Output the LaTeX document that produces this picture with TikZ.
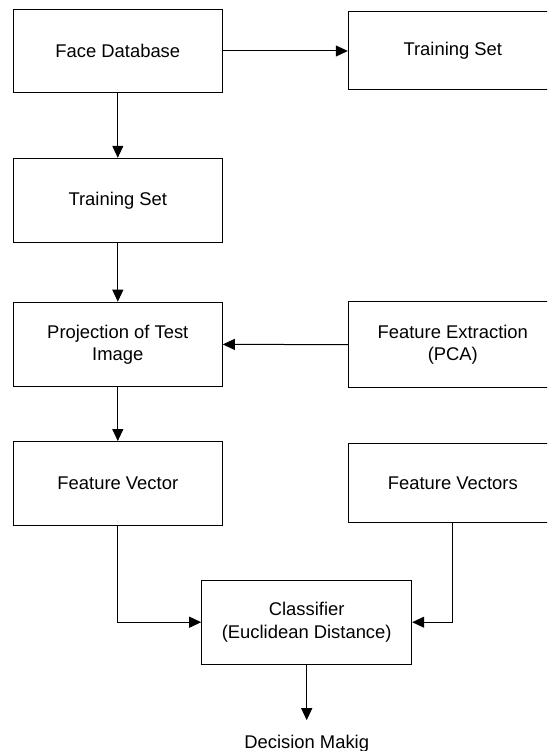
\documentclass[tikz,border=0pt]{standalone}
\usepackage{fontspec}
\setmainfont{Liberation Sans}
\usetikzlibrary{arrows.meta}
\begin{document}
\begin{tikzpicture}[x=1pt,y=-1pt,
  line width=1pt,
  every node/.style={font=\fontsize{18.4}{22.3}\selectfont},
  blockbox/.style={draw=black, rectangle, inner sep=0pt, align=center, minimum width=209pt},
  flow/.style={draw=black, -{Triangle[length=12pt,width=11pt]}}]
  \useasboundingbox (0,0) rectangle (547,751);
  \clip (0,0) rectangle (547,751);

  % left column
  \node[blockbox, minimum height=83.4pt] (fdb)  at (117.8,51.0)  {Face Database};
  \node[blockbox, minimum height=84pt]   (ts)   at (117.8,200.3) {Training Set};
  \node[blockbox, minimum height=84.4pt] (proj) at (117.8,344.4) {Projection of Test\\Image};
  \node[blockbox, minimum height=83.5pt] (fv)   at (117.8,483.3) {Feature Vector};

  % right column (runs past the right margin)
  \node[blockbox, minimum height=77.5pt] (ts2)  at (452.8,50.7)  {Training Set};
  \node[blockbox, minimum height=85.3pt] (fe)   at (452.8,344.6) {Feature Extraction\\(PCA)};
  \node[blockbox, minimum height=78.7pt] (fvs)  at (452.8,483.3) {Feature Vectors};

  % classifier and outcome
  \node[blockbox, minimum width=210pt, minimum height=83.7pt] (cls) at (306.7,622.2)
       {Classifier\\(Euclidean Distance)};
  \node[anchor=base, inner xsep=0pt, inner ysep=14.1pt, text height=13.2pt] (dec) at (306.7,748)
       {Decision Makig};

  % connectors
  \draw[flow] (fdb.east) -- (fdb.east -| ts2.west);
  \draw[flow] (fdb.south) -- (ts.north);
  \draw[flow] (ts.south) -- (proj.north);
  \draw[flow] (fe.west) -- (proj.east);
  \draw[flow] (proj.south) -- (fv.north);
  \draw[flow] (fv.south) |- (cls.west);
  \draw[flow] (fvs.south) |- (cls.east);
  \draw[flow] (cls.south) -- (dec.north);
\end{tikzpicture}
\end{document}
